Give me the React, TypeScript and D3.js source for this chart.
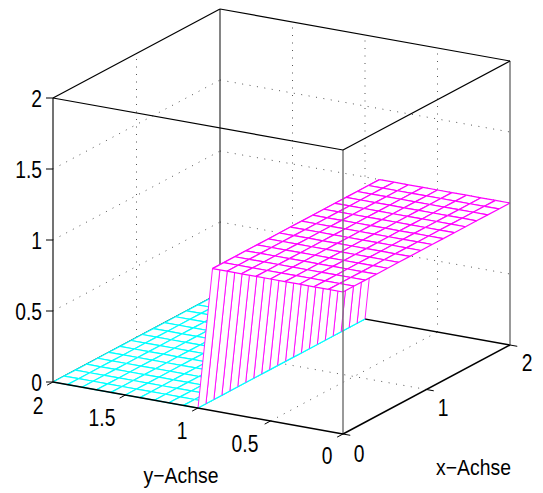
import * as React from "react"
import { select, scaleLinear, line, interpolateRgb } from "d3"

// mesh lines: the flat parts are coarser in x than the step
const xValues = [0, 0.133, 0.267, 0.4, 0.533, 0.667, 0.8, 0.933, 1.067, 1.2, 1.333, 1.467, 1.6, 1.733, 1.867, 2]
const wallXValues = [0, 0.095, 0.19, 0.286, 0.381, 0.476, 0.571, 0.667, 0.762, 0.857, 0.952, 1.048, 1.143, 1.238, 1.333, 1.429, 1.524, 1.619, 1.714, 1.81, 1.905, 2]
const yValues = [0, 0.1, 0.2, 0.3, 0.4, 0.5, 0.6, 0.7, 0.8, 0.9, 1, 1.1, 1.2, 1.3, 1.4, 1.5, 1.6, 1.7, 1.8, 1.9, 2]
// height for each y row, the same along x
const zByRow = [1, 1, 1, 1, 1, 1, 1, 1, 1, 1, 0, 0, 0, 0, 0, 0, 0, 0, 0, 0, 0]

const xTicks = [0, 1, 2]
const yTicks = [0, 0.5, 1, 1.5, 2]
const zTicks = [0, 0.5, 1, 1.5, 2]

const xLabelSpots = [[359, 453], [443, 407], [527, 362]]
const yLabelSpots = [[327, 455], [245, 443], [182, 430], [102, 417], [38, 405]]

const width = 543
const height = 493
const originX = 343
const originY = 434

const xToPx = scaleLinear().domain([0, 2]).range([0, 167])
const xToPy = scaleLinear().domain([0, 2]).range([0, -89])
const yToPx = scaleLinear().domain([0, 2]).range([0, -290])
const yToPy = scaleLinear().domain([0, 2]).range([0, -52])
const zToPy = scaleLinear().domain([0, 2]).range([0, -284])
const meshColor = scaleLinear<string>()
  .domain([0, 1])
  .range(["#00ffff", "#ff00ff"])
  .interpolate(interpolateRgb)

type P3 = [number, number, number]

const project = ([x, y, z]: P3): [number, number] => [
  originX + xToPx(x) + yToPx(y),
  originY + xToPy(x) + yToPy(y) + zToPy(z),
]

const path = line()

function SurfaceChart() {
  const svgRef = React.useRef<SVGSVGElement>(null)

  React.useEffect(() => {
    const svg = select(svgRef.current)
    svg.selectAll("*").remove()

    const seg = (a: P3, b: P3, color: string, w = 1, dash?: string) =>
      svg
        .append("path")
        .attr("d", path([project(a), project(b)]))
        .attr("fill", "none")
        .attr("stroke", color)
        .attr("stroke-width", w)
        .attr("stroke-dasharray", dash ?? null)

    const dots = "1 6.5"
    const dotColor = "#555"

    // dotted grid on the back walls and the floor
    zTicks.slice(1, -1).forEach((z) => {
      seg([0, 2, z], [2, 2, z], dotColor, 1, dots)
      seg([2, 2, z], [2, 0, z], dotColor, 1, dots)
    })
    xTicks.slice(1, -1).forEach((x) => {
      seg([x, 2, 0], [x, 2, 2], dotColor, 1, dots)
      seg([x, 0, 0], [x, 2, 0], dotColor, 1, dots)
    })
    yTicks.slice(1, -1).forEach((y) => {
      seg([2, y, 0], [2, y, 2], dotColor, 1, dots)
      seg([0, y, 0], [2, y, 0], dotColor, 1, dots)
    })

    // back edges of the box
    seg([2, 2, 0], [2, 2, 2], "#333", 1.2)
    seg([2, 2, 0], [2, 0, 0], "#000", 1.3)
    seg([2, 2, 0], [0, 2, 0], "#000", 1.3)

    // mesh, far cells first so the white faces hide what is behind them
    for (let j = yValues.length - 2; j >= 0; j--) {
      const isWall = zByRow[j] !== zByRow[j + 1]
      const xs = isWall ? wallXValues : xValues
      for (let i = xs.length - 2; i >= 0; i--) {
        const a: P3 = [xs[i], yValues[j], zByRow[j]]
        const b: P3 = [xs[i + 1], yValues[j], zByRow[j]]
        const c: P3 = [xs[i + 1], yValues[j + 1], zByRow[j + 1]]
        const d: P3 = [xs[i], yValues[j + 1], zByRow[j + 1]]
        svg
          .append("path")
          .attr("d", path([a, b, c, d].map(project)) + "Z")
          .attr("fill", "#fff")
        ;[
          [a, b],
          [b, c],
          [c, d],
          [d, a],
        ].forEach(([p, q]) =>
          seg(p as P3, q as P3, meshColor(Math.max(p[2], q[2])), isWall && p[2] !== q[2] ? 0.9 : 1.2)
        )
      }
    }

    // box lines that stay on top of the mesh
    seg([0, 2, 0], [0, 2, 2], "#444", 1.5)
    seg([0, 0, 0], [0, 0, 2], "#777", 1.5)
    seg([2, 0, 0], [2, 0, 2], "#777", 1.5)
    seg([0, 2, 2], [0, 0, 2], "#000", 1.2)
    seg([0, 0, 2], [2, 0, 2], "#000", 1.2)
    seg([2, 0, 2], [2, 2, 2], "#000", 1.2)
    seg([2, 2, 2], [0, 2, 2], "#000", 1.2)
    seg([0, 2, 0], [0, 0, 0], "#000", 1.5)
    seg([0, 0, 0], [2, 0, 0], "#000", 1.5)

    // tick marks
    zTicks.forEach((z) => {
      const [px, py] = project([0, 2, z])
      svg
        .append("path")
        .attr("d", path([[px - 7, py], [px, py]]))
        .attr("stroke", "#000")
        .attr("stroke-width", 1)
    })
    yTicks.forEach((y) => seg([0, y, 0], [-0.07, y, 0], "#000", 1))
    xTicks.forEach((x) => seg([x, 0, 0], [x, -0.05, 0], "#000", 1))

    const label = (t: string, px: number, py: number, anchor: string, size = 23.5, sx = 0.82) =>
      svg
        .append("text")
        .attr("transform", `translate(${px},${py}) scale(${sx},1)`)
        .attr("text-anchor", anchor)
        .attr("font-family", "'Liberation Sans', Arial, sans-serif")
        .attr("font-size", size)
        .attr("fill", "#000")
        .text(t)

    zTicks.forEach((z) => {
      const [px, py] = project([0, 2, z])
      label(String(z), px - 11, py + 8.5, "end")
    })
    yTicks.forEach((y, k) => label(String(y), yLabelSpots[k][0], yLabelSpots[k][1] + 8.5, "middle"))
    xTicks.forEach((x, k) => label(String(x), xLabelSpots[k][0], xLabelSpots[k][1] + 8.5, "middle"))
    label("y\u2212Achse", 181, 483, "middle", 22, 0.88)
    label("x\u2212Achse", 473.5, 475, "middle", 22, 0.88)
  }, [])

  return (
    <svg
      ref={svgRef}
      width={width}
      height={height}
      style={{ position: "absolute", left: 0, top: 0, display: "block", background: "#fff" }}
    />
  )
}

export default function App() {
  return <SurfaceChart />
}
